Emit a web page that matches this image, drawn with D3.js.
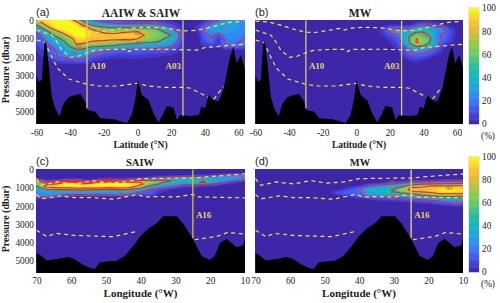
<!DOCTYPE html>
<html lang="en">
<head>
    <title>Water mass fractions</title>
    <script src="https://d3js.org/d3.v7.min.js"></script>
    <style>
        html, body { margin: 0; padding: 0; background: #fff; }
        svg { display: block; }
        text { font-family: "Liberation Serif", serif; fill: #222; }
    </style>
</head>
<body>
<svg width="500" height="303"></svg>
<script>
    // ---- data ----
    var latTicks = [-60, -40, -20, 0, 20, 40, 60];
    var lonTicks = [70, 60, 50, 40, 30, 20, 10];
    var presTicks = [0, 1000, 2000, 3000, 4000, 5000];
    var fracTicks = [0, 20, 40, 60, 80, 100];

    // panel a, rows by pressure, columns by latitude
    var aLats = [-60,-56,-52,-48,-44,-40,-36,-32,-28,-24,-20,-16,-12,-8,-4,0,4,8,12,16,20,24,28,32,36,40,44,48,52,56,60,64];
    var aPres = [0,200,400,600,800,1000,1200,1400,1600,1800,2000,2200,2400];
    var aValues = [
        [80,90,98,100,100,95,70,45,25,18,14,12,10,8,8,6,5,5,4,3,2,1,0,0,0,5,12,20,28,28,28,25],
        [55,78,95,100,100,100,95,70,45,35,28,25,22,22,22,22,24,22,20,15,8,3,0,0,2,12,24,30,32,30,28,25],
        [35,55,80,98,100,100,100,95,75,62,55,50,50,50,52,52,52,50,45,35,18,8,1,0,6,24,30,34,32,30,28,25],
        [22,35,55,75,92,100,100,100,90,82,75,72,72,76,78,80,75,68,60,48,35,20,3,0,4,22,28,30,30,28,25,22],
        [15,25,45,55,70,90,100,100,93,90,88,86,88,92,92,90,80,72,66,58,50,26,2,0,1,18,22,12,26,26,24,22],
        [12,20,32,45,55,70,92,95,85,85,85,85,85,85,88,80,72,66,60,50,40,22,2,0,0,14,20,6,22,24,22,20],
        [10,15,25,35,45,62,88,85,78,76,75,70,68,62,60,55,52,50,48,40,30,18,1,0,0,10,18,4,22,22,20,18],
        [6,12,18,28,38,52,70,65,55,52,50,48,42,38,35,32,32,30,28,25,22,12,0,0,0,4,5,5,20,20,18,15],
        [3,8,15,22,30,40,48,45,35,28,24,22,20,19,19,18,18,16,15,14,12,6,0,0,0,0,0,0,2,2,2,2],
        [1,5,12,20,24,30,32,30,24,18,15,12,10,10,10,10,9,8,8,6,4,2,0,0,0,0,0,0,0,0,0,0],
        [0,3,8,20,22,24,26,24,14,10,7,6,4,5,5,5,4,3,2,1,1,0,0,0,0,0,0,0,0,0,0,0],
        [0,1,3,8,12,12,15,15,8,3,1,0,0,0,0,0,0,0,0,0,0,0,0,0,0,0,0,0,0,0,0,0],
        [0,0,0,1,2,2,2,2,0,0,0,0,0,0,0,0,0,0,0,0,0,0,0,0,0,0,0,0,0,0,0,0]
    ];

    // panel b
    var bLats = [12,16,20,24,28,32,36,40,44,48,52,56,60];
    var bPres = [0,200,400,600,800,1000,1200,1400,1600,1800,2000,2200,2400];
    var bValues = [
        [0,0,0,0,0,0,0,0,0,0,0,0,0],
        [0,0,0,0,0,0,10,15,12,6,2,0,0],
        [0,5,14,18,16,18,30,35,32,25,22,6,0],
        [0,8,24,30,28,40,48,48,46,28,22,12,0],
        [0,3,12,18,30,50,58,60,48,22,18,10,0],
        [0,0,6,12,30,54,82,64,52,24,18,8,0],
        [0,0,2,8,26,52,84,66,50,26,12,4,0],
        [0,0,0,6,18,44,52,50,42,25,5,0,0],
        [0,0,0,2,10,22,26,24,22,14,2,0,0],
        [0,0,0,0,6,18,22,20,14,6,0,0,0],
        [0,0,0,0,2,10,12,10,4,0,0,0,0],
        [0,0,0,0,0,3,4,2,0,0,0,0,0],
        [0,0,0,0,0,0,0,0,0,0,0,0,0]
    ];

    // panel c, one profile per longitude (turned into rows below)
    var cLons = [70,67,64,61,58,55,52,49,46,43,40,37,34,31,28,25,22,19,16,13,10];
    var cPres = [200,300,400,500,600,700,800,900,1000,1100,1200,1300,1400,1500,1600,1700];
    var cProfiles = [
        [0,0,0,5,55,78,62,48,38,30,28,26,24,21,4,0],
        [0,0,0,0,8,30,75,95,70,45,32,28,26,22,3,0],
        [0,0,0,0,15,55,85,100,80,50,35,28,22,10,1,0],
        [0,0,0,5,30,85,100,100,80,50,33,26,18,3,0,0],
        [0,0,0,5,25,75,95,100,88,55,35,26,14,2,0,0],
        [0,0,0,0,8,50,90,100,85,55,35,26,20,3,0,0],
        [0,0,0,5,30,85,100,100,85,50,35,25,15,1,0,0],
        [0,0,0,8,40,90,100,95,80,45,32,24,20,2,0,0],
        [0,0,0,5,30,80,100,100,85,50,33,25,21,3,0,0],
        [0,0,0,10,42,85,100,95,78,45,30,24,15,1,0,0],
        [0,0,0,15,50,80,85,72,55,32,22,14,6,0,0,0],
        [0,0,5,25,55,70,62,42,28,20,15,14,8,0,0,0],
        [0,0,10,35,55,52,45,28,22,8,4,2,0,0,0,0],
        [0,0,15,38,50,45,32,24,12,2,0,0,0,0,0,0],
        [0,2,22,36,38,32,24,12,3,0,0,0,0,0,0,0],
        [0,4,24,36,38,40,26,12,2,0,0,0,0,0,0,0],
        [0,5,24,34,50,55,26,5,0,0,0,0,0,0,0,0],
        [0,8,28,34,34,30,18,4,0,0,0,0,0,0,0,0],
        [1,20,30,30,28,22,6,0,0,0,0,0,0,0,0,0],
        [2,24,28,26,22,8,0,0,0,0,0,0,0,0,0,0],
        [3,28,26,24,14,2,0,0,0,0,0,0,0,0,0,0]
    ];

    // panel d
    var dLons = [49,46,43,40,37,34,31,28,25,22,19,16,13,10];
    var dPres = [400,500,600,700,800,900,1000,1100,1200,1300,1400,1500,1600,1700,1800,1900,2000,2100,2200];
    var dProfiles = [
        [0,0,0,0,0,0,0,0,0,0,0,0,0,0,0,0,0,0,0],
        [0,0,0,0,0,0,0,2,10,12,4,0,0,0,0,0,0,0,0],
        [0,0,0,0,0,0,5,12,14,14,10,3,0,0,0,0,0,0,0],
        [0,0,0,0,0,6,15,19,19,18,16,10,2,0,0,0,0,0,0],
        [0,0,0,0,8,20,30,35,36,34,28,20,8,1,0,0,0,0,0],
        [0,0,0,0,14,28,34,38,40,38,30,20,10,3,0,0,0,0,0],
        [0,0,0,8,20,34,40,46,48,42,30,22,14,5,0,0,0,0,0],
        [0,0,2,12,28,42,55,65,62,45,32,24,16,8,1,0,0,0,0],
        [0,0,5,22,40,60,82,86,78,55,38,28,20,10,3,0,0,0,0],
        [0,0,6,25,50,70,85,80,84,66,50,35,24,15,6,1,0,0,0],
        [0,0,8,25,55,82,86,88,86,76,58,40,28,19,10,3,0,0,0],
        [0,0,10,28,56,82,92,100,100,84,66,46,32,24,18,8,1,0,0],
        [0,0,12,30,58,82,90,100,98,84,68,48,35,26,22,12,4,0,0],
        [0,2,14,32,60,82,88,94,92,84,68,50,36,28,22,15,6,1,0]
    ];

    // sea floor
    var floorLats = [-60,-58.8,-56.8,-55.4,-54.3,-52.9,-50.9,-48.9,-46.3,-44,-41,-37,-34,-31,-29.7,-25,-22,-14,-6.3,-3.4,-1.4,0.2,2.6,6.5,9.5,12.5,15.4,17.4,21.4,23.4,25.3,31.3,36.6,37.8,40.2,42.2,45.1,48.1,51,55,57,58.9,61.4,64];
    var floorLatPres = [2980,3340,3250,1250,1160,2340,4160,4800,5250,4530,4200,4070,4020,4430,4890,4980,5340,5400,5620,5160,4340,3250,4070,4340,5070,5580,5070,4670,4750,5440,5160,5220,5160,4710,4800,4070,4340,4430,3800,1980,1430,2340,1890,2710];
    var floorLons = [70,68.6,67.1,64.2,60.9,59,57,54.6,53.2,51.8,49.8,47,44.6,42.2,40.2,37.8,35.5,33.5,29.7,27.8,25.4,23.9,22.5,20.1,18.7,17.2,15.3,13.9,12.4,10.5,10];
    var floorLonPres = [4550,4730,4960,4900,4780,4900,5170,5380,5435,5080,5030,4990,4730,4200,3660,3220,2950,2560,2560,2950,3660,4200,4730,4940,4730,4020,3790,4020,4250,4140,3750];

    // dashed density lines
    var upperLats = [-60,-52,-44,-38,-30,-25,-18,-10,-7,-3,5,15,27,35,42,50,55,63];
    var upperLatPres = [30,80,280,460,640,660,560,430,520,420,370,400,570,540,400,200,100,50];
    var midLats = [-60,-55,-51,-48,-45,-40,-36,-30,-25,-15,-6,-5,-3,15,27,35,40,50,63];
    var midLatPres = [520,680,790,1150,1610,2010,1980,1760,1620,1580,1575,1700,1580,1570,1600,1620,1480,1400,1300];
    var deepLats = [-60,-55,-50.5,-47.5,-40.6,-30.6,-23.7,-12,0,6,16,27.6,31.5,37.5,45,51];
    var deepLatPres = [1065,1210,2070,2610,3200,3470,3580,3580,3430,3580,3650,3650,3700,3980,4340,3620];
    var upperLons = [70,68.6,64,59,54,49.5,44.5,40,33,25,20,10];
    var upperLonPres = [500,860,680,790,610,740,680,500,480,470,380,240];
    var midLons = [70,68.6,63,59,54,47.5,41,39,35,30,25,23.5,10];
    var midLonPres = [1360,1600,1445,1534,1534,1623,1360,1500,1480,1500,1360,1500,1550];
    var deepWestLons = [70,67,64.5,59,48,41.5];
    var deepWestPres = [3320,3670,3490,3600,3670,3400];
    var deepEastLons = [24.5,18,15,10];
    var deepEastPres = [3840,3650,3440,3530];

    // contour labels: x, pressure, text
    var aLabelX = [-33,-35,-37.6,-24,0,1,15,9.5,51], aLabelP = [245,1370,1760,1790,700,1210,1650,160,370], aLabelT = ["50","80","50","20","80","50","20","20","0"];
    var bLabelX = [41,22,33], bLabelP = [800,500,1750], bLabelT = ["50","20","20"];
    var cLabelX = [56.6,45,30.6,10], cLabelP = [750,1360,500,360], cLabelT = ["50","20","20","20"];
    var dLabelX = [30.8,30,14,30.8,11,12], dLabelP = [700,1150,1000,1530,1530,1850], dLabelT = ["20","50","80","20","50","20"];

    var parula = ["#3e26a8","#4747eb","#3978fd","#249ee8","#12b8be","#27be9c","#65cb6b","#96ca46","#ddbb3c","#fec62f","#f9fb15"];
    var color = d3.scaleLinear().domain(d3.range(0, 101, 10)).range(parula).clamp(true);

    var svg = d3.select("svg");

    function drawField(g, x, y, xs, ys, matrix) {
        var nx = xs[1] - xs[0], ny = ys[1] - ys[0];
        var values = d3.merge(matrix);
        var gen = d3.contours().size([xs.length, ys.length]);
        var path = d3.geoPath(d3.geoTransform({
            point: function (u, v) {
                this.stream.point(x(xs[0] + (u - 0.5) * nx), y(ys[0] + (v - 0.5) * ny));
            }
        }));
        g.append("g").selectAll("path")
            .data(gen.thresholds(d3.range(2.5, 100, 5))(values))
            .enter().append("path")
            .attr("d", path)
            .attr("fill", function (d) { return color(d.value + 2.5); });
        g.append("g").selectAll("path")
            .data(gen.thresholds([20, 50, 80])(values))
            .enter().append("path")
            .attr("d", path)
            .attr("fill", "none")
            .attr("stroke", "#ea2030")
            .attr("stroke-width", 1.1);
    }

    function drawPanel(p) {
        var x = d3.scaleLinear().domain(p.xDomain).range(p.xRange);
        var y = d3.scaleLinear().domain([0, 5000]).range([p.top + 0.5, p.top + 92]);
        var g = svg.append("g");
        var clipId = "clip" + p.letter;

        svg.append("clipPath").attr("id", clipId).append("rect")
            .attr("x", p.left).attr("y", p.top)
            .attr("width", p.w).attr("height", p.h);

        var plot = g.append("g").attr("clip-path", "url(#" + clipId + ")");
        plot.append("rect")
            .attr("x", p.left).attr("y", p.top)
            .attr("width", p.w).attr("height", p.h)
            .attr("fill", color(0));

        drawField(plot, x, y, p.xs, p.ys, p.values);

        // density lines
        var line = d3.line()
            .x(function (d) { return x(d[0]); })
            .y(function (d) { return y(d[1]); });
        p.lines.forEach(function (l) {
            plot.append("path")
                .attr("d", line(d3.zip(l.xs, l.ps)))
                .attr("fill", "none")
                .attr("stroke", "#f2e43c")
                .attr("stroke-width", 1.2)
                .attr("stroke-dasharray", "4,3.5");
        });

        // sea floor
        var bottom = y.range()[0] + p.h;
        var area = d3.area()
            .x(function (d) { return x(d[0]); })
            .y0(bottom)
            .y1(function (d) { return y(d[1]); });
        plot.append("path")
            .attr("d", area(d3.zip(p.floorX, p.floorP)))
            .attr("fill", "#000");

        // sections
        p.sections.forEach(function (s) {
            plot.append("line")
                .attr("x1", x(s.x)).attr("x2", x(s.x))
                .attr("y1", y(0)).attr("y2", y(s.end))
                .attr("stroke", p.sectionColor)
                .attr("stroke-width", 1.3);
            plot.append("text")
                .attr("x", x(s.x) + s.dx)
                .attr("y", y(2490) + 3)
                .attr("text-anchor", s.anchor)
                .style("font-size", "9px")
                .style("font-weight", "bold")
                .style("fill", "#e4d45c")
                .text(s.name);
        });

        // contour labels
        plot.selectAll(".lab").data(p.labelT).enter().append("text")
            .attr("class", "lab")
            .attr("x", function (d, i) { return x(p.labelX[i]); })
            .attr("y", function (d, i) { return y(p.labelP[i]) + 2; })
            .attr("text-anchor", "middle")
            .style("font-size", "6.5px")
            .style("fill", "#c5504a")
            .text(function (d) { return d; });

        // axes
        var xAxis = d3.axisBottom(x).tickValues(p.xTicks).tickFormat(String).tickSize(0).tickPadding(p.tickPad);
        var ax = g.append("g")
            .attr("transform", "translate(0," + (p.top + p.h) + ")")
            .call(xAxis);
        ax.select(".domain").remove();
        ax.selectAll("text").style("font-size", "9.3px");

        if (p.yAxis) {
            var ay = g.append("g")
                .attr("transform", "translate(" + p.left + ",0)")
                .call(d3.axisLeft(y).tickValues(presTicks).tickFormat(String).tickSize(0).tickPadding(2));
            ay.select(".domain").remove();
            ay.selectAll("text").style("font-size", "9.3px");
            g.append("text")
                .attr("transform", "translate(9," + (p.top + 50) + ") rotate(-90)")
                .attr("text-anchor", "middle")
                .style("font-size", "10px")
                .style("font-weight", "bold")
                .text("Pressure (dbar)");
        }

        g.append("text")
            .attr("x", p.left + p.w / 2)
            .attr("y", p.top + p.h + 24)
            .attr("text-anchor", "middle")
            .style("font-size", p.xTitleSize)
            .style("font-weight", "bold")
            .text(p.xTitle);

        g.append("text")
            .attr("x", p.titleX)
            .attr("y", p.top - 3.5)
            .attr("text-anchor", "middle")
            .style("font-size", p.titleSize)
            .style("font-weight", "bold")
            .text(p.title);

        g.append("text")
            .attr("x", p.left)
            .attr("y", p.top - 4)
            .style("font-family", "'Liberation Sans', sans-serif")
            .style("font-size", "11px")
            .text("(" + p.letter + ")");
    }

    function drawBar(top, bottom) {
        var y = d3.scaleLinear().domain([0, 100]).range([bottom, top]);
        var g = svg.append("g");
        g.selectAll("rect").data(d3.range(0, 100, 1)).enter().append("rect")
            .attr("x", 469).attr("width", 10)
            .attr("y", function (d) { return y(d + 1); })
            .attr("height", function (d) { return y(d) - y(d + 1) + 0.5; })
            .attr("fill", function (d) { return color(d + 0.5); });
        g.append("rect")
            .attr("x", 468.5).attr("y", top - 0.5)
            .attr("width", 11).attr("height", bottom - top + 1)
            .attr("fill", "none").attr("stroke", "#ddd").attr("stroke-width", 0.7);
        var a = g.append("g")
            .attr("transform", "translate(479,0)")
            .call(d3.axisRight(y).tickValues(fracTicks).tickSize(0).tickPadding(3));
        a.select(".domain").remove();
        a.selectAll("text").style("font-size", "9.3px");
        g.append("text")
            .attr("x", 488).attr("y", bottom + 15)
            .attr("text-anchor", "middle")
            .style("font-size", "9.3px")
            .text("(%)");
    }

    var latLines = [
        {xs: upperLats, ps: upperLatPres},
        {xs: midLats, ps: midLatPres},
        {xs: deepLats, ps: deepLatPres}
    ];
    // the deep line is cut by the ridge, so it comes in two pieces
    var lonLines = [
        {xs: upperLons, ps: upperLonPres},
        {xs: midLons, ps: midLonPres},
        {xs: deepWestLons, ps: deepWestPres},
        {xs: deepEastLons, ps: deepEastPres}
    ];

    var latSections = [
        {x: -30, end: 4800, name: "A10", dx: 3, anchor: "start"},
        {x: 27, end: 5200, name: "A03", dx: -2, anchor: "end"}
    ];
    var lonSections = [{x: 25, end: 3750, name: "A16", dx: 3, anchor: "start"}];

    drawPanel({
        letter: "a", left: 36, top: 20, w: 209, h: 104, xDomain: [-60, 60], xRange: [36.5, 238.5], tickPad: 5,
        xs: aLats, ys: aPres, values: aValues, lines: latLines, floorX: floorLats, floorP: floorLatPres,
        sections: latSections, sectionColor: "#d8c96c", labelX: aLabelX, labelP: aLabelP, labelT: aLabelT,
        xTicks: latTicks, yAxis: true, xTitle: "Latitude (°N)", xTitleSize: "9.5px",
        title: "AAIW & SAIW", titleX: 141, titleSize: "11.5px"
    });
    drawPanel({
        letter: "b", left: 255, top: 20, w: 208, h: 104, xDomain: [-60, 60], xRange: [255.5, 457], tickPad: 5,
        xs: bLats, ys: bPres, values: bValues, lines: latLines, floorX: floorLats, floorP: floorLatPres,
        sections: latSections, sectionColor: "#d8c96c", labelX: bLabelX, labelP: bLabelP, labelT: bLabelT,
        xTicks: latTicks, yAxis: false, xTitle: "Latitude (°N)", xTitleSize: "9.5px",
        title: "MW", titleX: 360, titleSize: "11.5px"
    });
    drawPanel({
        letter: "c", left: 36, top: 169, w: 209, h: 104, xDomain: [70, 10], xRange: [36.5, 245], tickPad: 4,
        xs: cLons, ys: cPres, values: d3.transpose(cProfiles), lines: lonLines, floorX: floorLons, floorP: floorLonPres,
        sections: lonSections, sectionColor: "#d9cb1e", labelX: cLabelX, labelP: cLabelP, labelT: cLabelT,
        xTicks: lonTicks, yAxis: true, xTitle: "Longitude (°W)", xTitleSize: "11px",
        title: "SAIW", titleX: 140, titleSize: "10.5px"
    });
    drawPanel({
        letter: "d", left: 255, top: 169, w: 208, h: 104, xDomain: [70, 10], xRange: [255.5, 463], tickPad: 4,
        xs: dLons, ys: dPres, values: d3.transpose(dProfiles), lines: lonLines, floorX: floorLons, floorP: floorLonPres,
        sections: lonSections, sectionColor: "#e4d987", labelX: dLabelX, labelP: dLabelP, labelT: dLabelT,
        xTicks: lonTicks, yAxis: false, xTitle: "Longitude (°W)", xTitleSize: "11px",
        title: "MW", titleX: 360, titleSize: "10.5px"
    });

    drawBar(8, 124);
    drawBar(157, 272);
</script>
</body>
</html>
